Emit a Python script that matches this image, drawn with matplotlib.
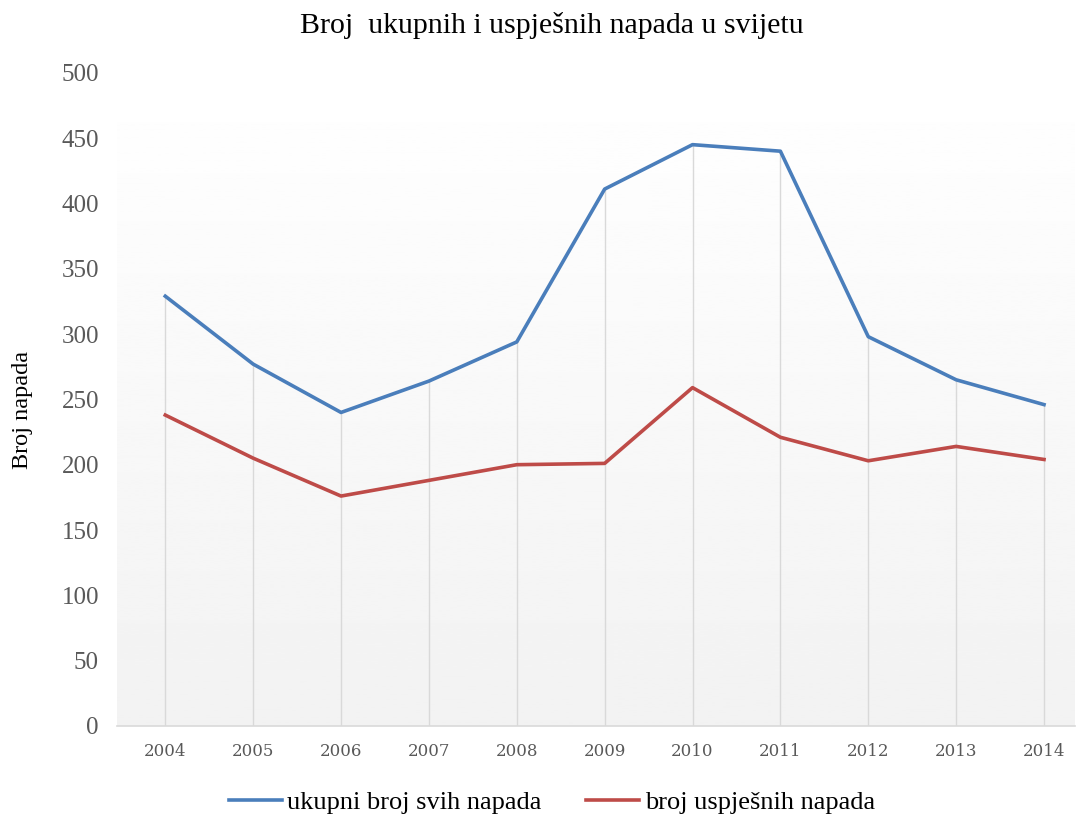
import matplotlib
matplotlib.use("Agg")
import matplotlib.pyplot as plt
import numpy as np

# podaci
godine = ['2004', '2005', '2006', '2007', '2008', '2009', '2010', '2011', '2012', '2013', '2014']
ukupni = [329, 277, 240, 264, 294, 411, 445, 440, 298, 265, 246]
uspjesni = [238, 205, 176, 188, 200, 201, 259, 221, 203, 214, 204]

plt.rcParams['font.family'] = ['Liberation Serif', 'DejaVu Serif']

fig = plt.figure(figsize=(10.78, 8.19), dpi=100)
ax = fig.add_axes([0.1085, 0.1136, 0.8885, 0.7975])

x = np.arange(len(godine))

# gradijent pozadine
grad = np.linspace(1.0, 0.949, 256).reshape(-1, 1)
ax.imshow(grad, cmap='gray', vmin=0, vmax=1, aspect='auto',
          extent=(-0.55, 10.35, 0, 500), origin='upper', zorder=0)

# okomite linije do vrha serije
vrh = np.maximum(ukupni, uspjesni)
ax.vlines(x, 0, vrh, color='#d9d9d9', lw=1, zorder=1)

ax.plot(x, ukupni, color='#4a7ebb', lw=2.6, label='ukupni broj svih napada', zorder=3)
ax.plot(x, uspjesni, color='#be4b48', lw=2.6, label='broj uspješnih napada', zorder=3)

ax.set_xlim(-0.55, 10.35)
ax.set_ylim(0, 500)
ax.set_yticks(np.arange(0, 501, 50))
ax.set_xticks(x)
ax.set_xticklabels(godine, family='DejaVu Serif')
ax.tick_params(axis='y', length=0, labelsize=18, labelcolor='#595959', pad=13)
ax.tick_params(axis='x', length=0, labelsize=12, labelcolor='#595959', pad=12)

for s in ['top', 'right', 'left']:
    ax.spines[s].set_visible(False)
ax.spines['bottom'].set_color('#d9d9d9')
ax.spines['bottom'].set_linewidth(1.2)

fig.text(0.512, 0.969, 'Broj  ukupnih i uspješnih napada u svijetu', ha='center', va='center', fontsize=21.5)
fig.text(0.021, 0.5, 'Broj napada', rotation=90, ha='center', va='center', fontsize=17.5)

fig.legend(loc='center', bbox_to_anchor=(0.512, 0.02), ncol=2, frameon=False,
           fontsize=19, handlelength=2.0, handletextpad=0.2, columnspacing=1.7)

fig.savefig('out.png', dpi=100)
